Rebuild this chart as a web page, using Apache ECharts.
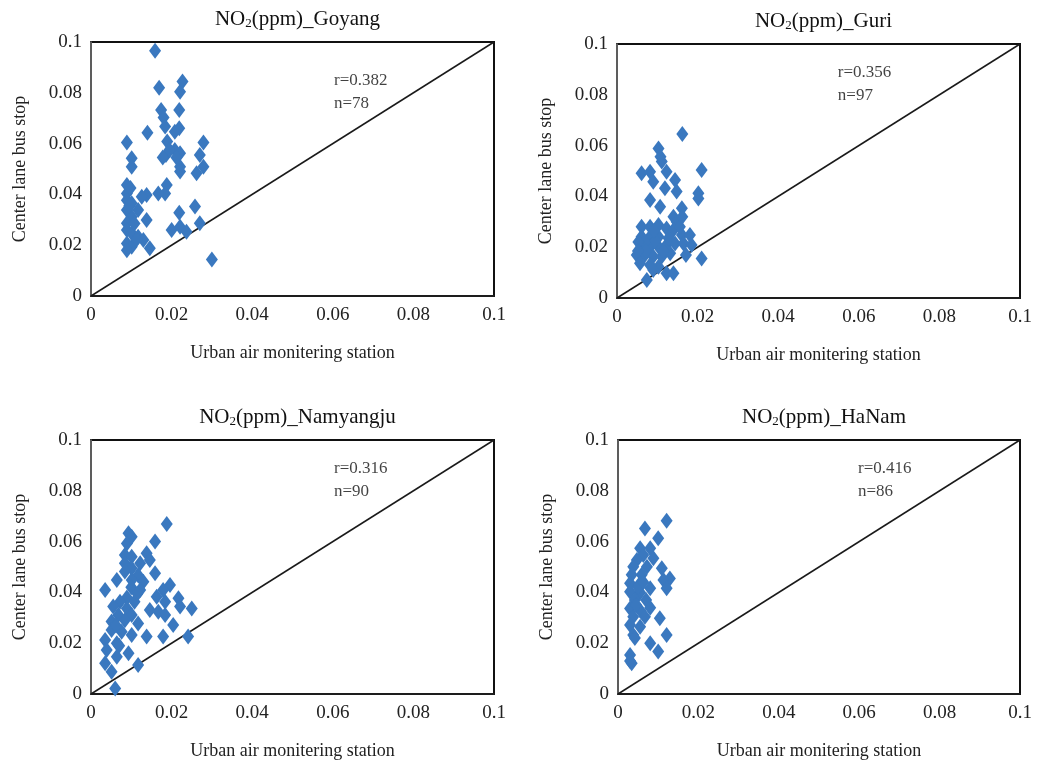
<!DOCTYPE html>
<html>
<head>
<meta charset="utf-8">
<script src="https://cdn.jsdelivr.net/npm/echarts@6/dist/echarts.min.js"></script>
<style>
html,body{margin:0;padding:0;background:#fff;}
#chart{width:1037px;height:762px;}
</style>
</head>
<body>
<div id="chart"></div>
<script>
// ---- data ----
const stations = ['Goyang', 'Guri', 'Namyangju', 'HaNam'];
const rValues = ['0.382', '0.356', '0.316', '0.416'];
const nValues = ['78', '97', '90', '86'];
const tickLabels = ['0', '0.02', '0.04', '0.06', '0.08', '0.1'];
const xAxisName = 'Urban air monitering station';
const yAxisName = 'Center lane bus stop';

const goyang = [
  [0.0159,0.0966],[0.0169,0.082],[0.0227,0.0844],[0.0221,0.0804],[0.0219,0.0732],[0.0174,0.0732],
  [0.018,0.0703],[0.0184,0.0667],[0.0219,0.066],[0.0208,0.0647],[0.014,0.0643],[0.0089,0.0604],
  [0.0279,0.0604],[0.0189,0.0608],[0.0186,0.0555],[0.0208,0.0575],[0.0221,0.0562],[0.027,0.0555],
  [0.0101,0.0542],[0.0101,0.0509],[0.0221,0.0509],[0.0279,0.0509],[0.0262,0.0483],[0.0221,0.049],
  [0.0089,0.0437],[0.0089,0.0404],[0.0188,0.0437],[0.0184,0.0404],[0.0167,0.0404],[0.0138,0.0398],
  [0.0126,0.0391],[0.0089,0.0377],[0.0101,0.0365],[0.0089,0.0339],[0.0117,0.0339],[0.0101,0.0312],
  [0.0258,0.0352],[0.0219,0.0328],[0.0138,0.0299],[0.0089,0.0286],[0.0089,0.026],[0.0101,0.0247],
  [0.02,0.026],[0.0221,0.0273],[0.027,0.0286],[0.0237,0.0253],[0.0117,0.0233],[0.013,0.022],
  [0.0089,0.0207],[0.0101,0.0194],[0.0146,0.0188],[0.0089,0.018],[0.03,0.0144],[0.0095,0.0355],
  [0.0108,0.0285],[0.0113,0.0222],[0.0195,0.0575],[0.0178,0.0545],[0.0212,0.0545],[0.0098,0.0425]
];
const guri = [
  [0.0162,0.0646],[0.0103,0.0589],[0.0108,0.0556],[0.0111,0.0537],[0.0061,0.0491],[0.0082,0.0497],
  [0.0123,0.0497],[0.021,0.0504],[0.009,0.0458],[0.0144,0.0465],[0.0119,0.0432],[0.0148,0.0419],
  [0.0202,0.0412],[0.0202,0.0392],[0.0082,0.0386],[0.0107,0.0359],[0.0161,0.0353],[0.014,0.032],
  [0.0148,0.03],[0.0061,0.0281],[0.0082,0.0281],[0.0103,0.0287],[0.0123,0.0274],[0.014,0.0268],
  [0.0061,0.0241],[0.0082,0.0241],[0.0103,0.0241],[0.0161,0.0248],[0.0181,0.0248],[0.0061,0.0202],
  [0.0082,0.0202],[0.0103,0.0202],[0.0123,0.0209],[0.0144,0.0215],[0.0165,0.0215],[0.0185,0.0209],
  [0.0049,0.0169],[0.0069,0.0169],[0.009,0.0163],[0.0111,0.0163],[0.0132,0.0176],[0.0171,0.0169],
  [0.021,0.0156],[0.0057,0.0137],[0.0082,0.013],[0.0103,0.0123],[0.0123,0.0097],[0.014,0.0097],
  [0.0074,0.0071],[0.009,0.011],[0.0069,0.022],[0.0053,0.022],[0.0156,0.0281],[0.0162,0.032],
  [0.0072,0.0185],[0.0095,0.0225],[0.0115,0.0185],[0.0092,0.0265],[0.0128,0.0235],[0.0052,0.0185]
];
const namyangju = [
  [0.0188,0.0669],[0.0093,0.0633],[0.0101,0.0619],[0.0159,0.06],[0.0089,0.0593],[0.0138,0.0554],
  [0.0084,0.0547],[0.0101,0.054],[0.0146,0.0528],[0.0084,0.0515],[0.0122,0.0515],[0.0101,0.0495],
  [0.0159,0.0475],[0.0084,0.0482],[0.0117,0.0468],[0.0064,0.0449],[0.0101,0.0449],[0.013,0.0442],
  [0.0196,0.0429],[0.0035,0.0409],[0.01,0.042],[0.0122,0.0409],[0.0179,0.0409],[0.0163,0.0383],
  [0.0089,0.038],[0.0217,0.0377],[0.0072,0.0363],[0.0108,0.0363],[0.0184,0.0363],[0.025,0.0337],
  [0.0221,0.0344],[0.0055,0.0344],[0.0089,0.0337],[0.0146,0.0331],[0.0167,0.0324],[0.0184,0.0311],
  [0.0068,0.0311],[0.0101,0.0311],[0.0051,0.0285],[0.0084,0.029],[0.0204,0.0272],[0.0117,0.0278],
  [0.0051,0.0252],[0.0076,0.0245],[0.0101,0.0232],[0.0138,0.0226],[0.0179,0.0226],[0.0241,0.0226],
  [0.0035,0.0213],[0.0064,0.02],[0.0039,0.0173],[0.0093,0.016],[0.0064,0.0147],[0.0035,0.0121],
  [0.0117,0.0114],[0.0051,0.0088],[0.006,0.0022],[0.0062,0.027],[0.007,0.019],[0.0115,0.0395]
];
const hanam = [
  [0.0121,0.0682],[0.0067,0.0652],[0.01,0.0613],[0.0055,0.0574],[0.008,0.0574],[0.0063,0.0547],
  [0.0047,0.0528],[0.0088,0.0534],[0.0038,0.0501],[0.0072,0.0501],[0.0109,0.0495],[0.0034,0.0469],
  [0.0059,0.0469],[0.0129,0.0455],[0.0113,0.0449],[0.003,0.0436],[0.0055,0.0436],[0.0121,0.0416],
  [0.008,0.0416],[0.003,0.0403],[0.0055,0.04],[0.0042,0.037],[0.007,0.037],[0.003,0.0337],
  [0.0055,0.033],[0.008,0.034],[0.0038,0.0304],[0.0067,0.0304],[0.0104,0.0298],[0.003,0.0272],
  [0.0055,0.0265],[0.0038,0.0232],[0.0121,0.0232],[0.008,0.02],[0.01,0.0167],[0.003,0.0154],
  [0.0034,0.0121],[0.003,0.013],[0.0042,0.022],[0.005,0.042],[0.0063,0.044],[0.0045,0.035]
];
const seriesData = [goyang, guri, namyangju, hanam];
const labelAnchors = [[0.0603,0.0803],[0.0548,0.0843],[0.0603,0.0843],[0.0597,0.0843]];
const diagonal = [[0,0],[0.1,0.1]];

// ---- layout ----
const grids = [
  {left:91, top:42, width:403, height:254},
  {left:617, top:44, width:403, height:254},
  {left:91, top:440, width:403, height:254},
  {left:618, top:440, width:402, height:254}
];
const font = 'Liberation Serif, Times New Roman, serif';

const option = {
  backgroundColor:'#fff',
  animation:false,
  title: stations.map((s,i)=>({
    text:'{n|NO}{s|2}{n|(ppm)_' + s + '}',
    left: grids[i].left + grids[i].width/2,
    top: grids[i].top - 39,
    textAlign:'center',
    textStyle:{
      fontWeight:'normal',
      rich:{
        n:{fontFamily:font,fontSize:21,fontWeight:'normal',color:'#111'},
        s:{fontFamily:font,fontSize:13,fontWeight:'normal',color:'#111',verticalAlign:'bottom',padding:[9,0,0,0]}
      }
    }
  })),
  grid: grids.map(g=>Object.assign({show:true,borderColor:'#111',borderWidth:2,backgroundColor:'#fff'},g)),
  xAxis: grids.map((g,i)=>({
    gridIndex:i, type:'value', min:0, max:0.1, interval:0.02,
    name:xAxisName, nameLocation:'middle', nameGap:48,
    nameTextStyle:{fontFamily:font,fontSize:18,color:'#222'},
    axisLine:{show:true,lineStyle:{color:'#222',width:1.5}},
    axisTick:{show:false}, splitLine:{show:false},
    axisLabel:{fontFamily:font,fontSize:19,color:'#222',margin:10,
      formatter:(v)=>tickLabels[Math.round(v/0.02)]}
  })),
  yAxis: grids.map((g,i)=>({
    gridIndex:i, type:'value', min:0, max:0.1, interval:0.02,
    name:yAxisName, nameLocation:'middle', nameGap:62,
    nameTextStyle:{fontFamily:font,fontSize:18,color:'#222'},
    axisLine:{show:true,lineStyle:{color:'#777',width:1.5}},
    axisTick:{show:false}, splitLine:{show:false},
    axisLabel:{fontFamily:font,fontSize:19,color:'#222',margin:9,
      formatter:(v)=>tickLabels[Math.round(v/0.02)]}
  })),
  series: []
};

seriesData.forEach((d,i)=>{
  option.series.push({
    type:'line', xAxisIndex:i, yAxisIndex:i, data:diagonal,
    symbol:'none', lineStyle:{color:'#1a1a1a',width:1.5}, z:1, silent:true
  });
  option.series.push({
    type:'scatter', xAxisIndex:i, yAxisIndex:i, data:d,
    symbol:'diamond', symbolSize:[12,16],
    itemStyle:{color:'#3a78bf',opacity:1}, z:3
  });
  option.series.push({
    type:'scatter', xAxisIndex:i, yAxisIndex:i, data:[labelAnchors[i]],
    symbolSize:0, silent:true, z:4,
    label:{show:true, position:'right', distance:0, align:'left', verticalAlign:'middle',
      fontFamily:font, fontSize:17, color:'#111', lineHeight:23,
      formatter:()=>'r=' + rValues[i] + '\nn=' + nValues[i]}
  });
});

const chart = echarts.init(document.getElementById('chart'));
chart.setOption(option);
</script>
</body>
</html>
